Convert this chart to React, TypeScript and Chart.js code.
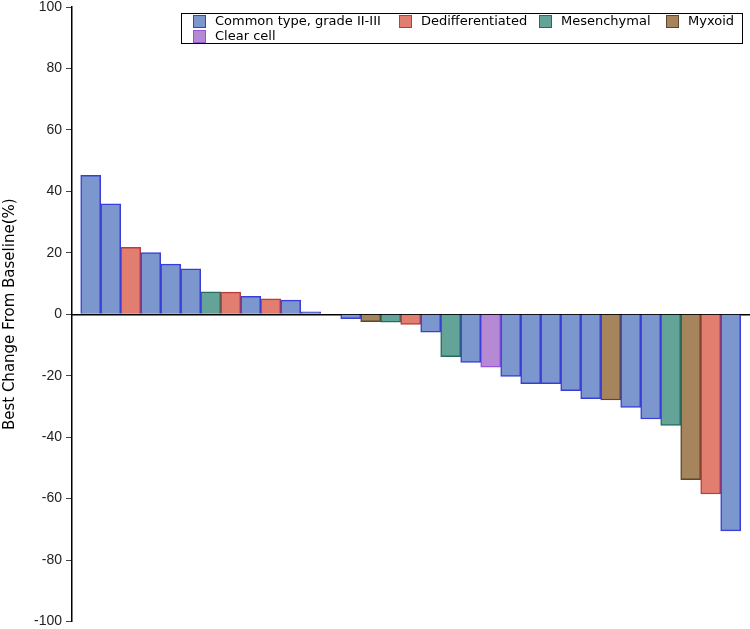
import { useEffect, useRef } from 'react';
import { Chart, registerables } from 'chart.js';

Chart.register(...registerables);

// ---- data ----
const typeNames = ['Common type, grade II-III', 'Dedifferentiated', 'Mesenchymal', 'Myxoid', 'Clear cell'];
const typeFill = ['rgb(123,151,206)', 'rgb(226,126,112)', 'rgb(100,164,152)', 'rgb(166,132,92)', 'rgb(181,137,212)'];
const typeBorder = ['rgb(58,62,214)', 'rgb(192,58,58)', 'rgb(40,108,96)', 'rgb(92,72,46)', 'rgb(150,84,222)'];

// subtype of each patient (index into typeNames), null = no bar
const patientType = [0, 0, 1, 0, 0, 0, 2, 1, 0, 1, 0, 0, null, 0, 3, 2, 1, 0, 2, 0, 4, 0, 0, 0, 0, 0, 3, 0, 0, 2, 3, 1, 0];
// best change from baseline (%)
const bestChange = [45.2, 35.9, 21.8, 20.1, 16.3, 14.8, 7.3, 7.2, 5.8, 5.0, 4.6, 0.8, null,
  -1.4, -2.4, -2.6, -3.3, -5.8, -13.8, -15.7, -17.2, -20.2, -22.6, -22.6, -24.9, -27.5, -27.9,
  -30.3, -34.1, -36.2, -53.8, -58.5, -70.5];

const yMin = -100;
const yMax = 100;
const yStep = 20;
const yTitle = 'Best Change From Baseline(%)';

// legend item placement (layout)
const legendFrame = { left: 181, right: 742, top: 13, bottom: 43 };
const legendItemPos = [
  { x: 193, y: 15 },
  { x: 399, y: 15 },
  { x: 539, y: 15 },
  { x: 666, y: 15 },
  { x: 193, y: 30 },
];

const boxLegend = {
  id: 'boxLegend',
  afterDraw(chart: any) {
    const ctx = chart.ctx as CanvasRenderingContext2D;
    ctx.save();
    ctx.strokeStyle = '#000';
    ctx.lineWidth = 1;
    ctx.strokeRect(legendFrame.left + 0.5, legendFrame.top + 0.5,
      legendFrame.right - legendFrame.left, legendFrame.bottom - legendFrame.top);
    ctx.font = '13px "DejaVu Sans"';
    ctx.textBaseline = 'middle';
    ctx.textAlign = 'left';
    chart.data.datasets.forEach((ds: any, i: number) => {
      const p = legendItemPos[i];
      ctx.fillStyle = ds.backgroundColor;
      ctx.fillRect(p.x, p.y, 12, 12);
      ctx.strokeStyle = ds.borderColor;
      ctx.lineWidth = 1;
      ctx.strokeRect(p.x + 0.5, p.y + 0.5, 12, 12);
      ctx.fillStyle = '#000';
      ctx.fillText(ds.label, p.x + 22, p.y + 6.5);
    });
    ctx.restore();
  },
};

export default function App() {
  const ref = useRef<HTMLCanvasElement | null>(null);

  useEffect(() => {
    if (!ref.current) return;
    const datasets = typeNames.map((name, t) => ({
      label: name,
      data: patientType
        .map((pt, i) => (pt === t && bestChange[i] !== null ? { x: i, y: bestChange[i] } : null))
        .filter((d) => d !== null),
      backgroundColor: typeFill[t],
      borderColor: typeBorder[t],
      borderWidth: 1.5,
      grouped: false,
      barThickness: 20,
    }));

    const chart = new Chart(ref.current, {
      type: 'bar',
      data: { datasets: datasets as any },
      plugins: [boxLegend],
      options: {
        animation: false,
        responsive: false,
        layout: { padding: { top: 0, bottom: 0, left: 0, right: 0 } },
        plugins: {
          legend: { display: false },
          tooltip: { enabled: false },
        },
        scales: {
          x: {
            type: 'linear',
            offset: false,
            min: -0.935,
            max: patientType.length - 1 + 0.965,
            position: { y: 0 } as any,
            z: 1,
            ticks: { display: false },
            grid: { display: false },
            border: { display: true, color: '#000', width: 1.5 },
            afterBuildTicks: (s: any) => {
              s.ticks = [];
            },
          },
          y: {
            type: 'linear',
            min: yMin,
            max: yMax,
            ticks: {
              stepSize: yStep,
              color: '#222',
              padding: 4,
              font: { family: '"Liberation Sans", Arial, sans-serif', size: 14, lineHeight: 1 },
            },
            grid: {
              display: true,
              drawOnChartArea: false,
              drawTicks: true,
              tickLength: 6,
              color: '#444',
            },
            border: { display: true, color: '#000', width: 1.5 },
            title: {
              display: true,
              text: yTitle,
              color: '#000',
              padding: { top: 1.5, bottom: 0 },
              font: { family: '"DejaVu Sans", sans-serif', size: 15 },
            },
            afterFit: (s: any) => {
              s.width = 72;
              s.paddingTop = 7;
              s.paddingBottom = 7.5;
            },
          },
        },
      },
    });
    return () => chart.destroy();
  }, []);

  return (
    <div style={{ position: 'fixed', left: 0, top: 0, width: 750, height: 629, background: '#fff' }}>
      <canvas ref={ref} width={750} height={629} />
    </div>
  );
}
